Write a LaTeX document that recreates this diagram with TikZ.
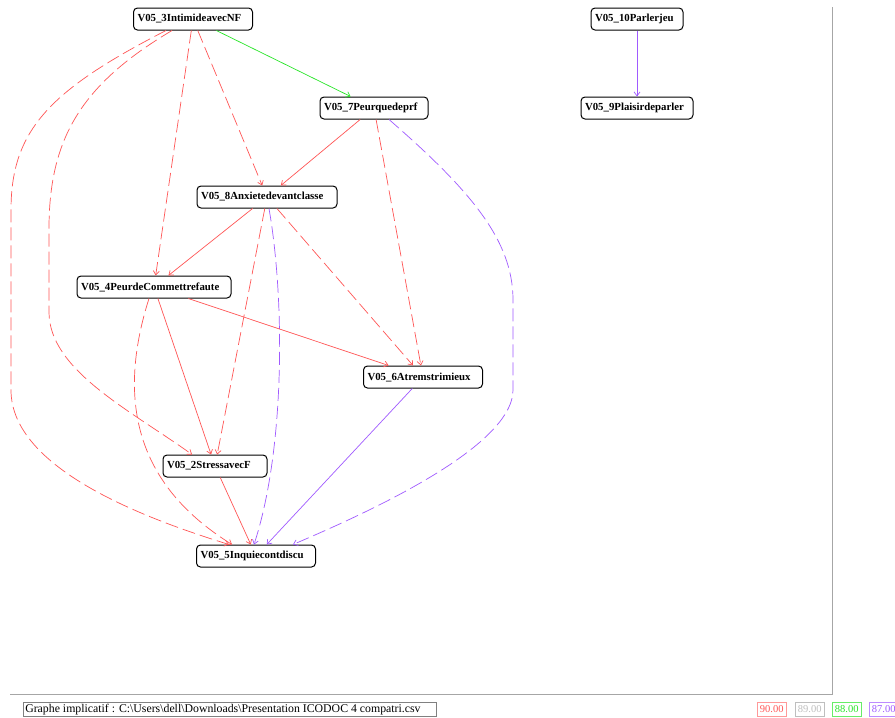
\documentclass[tikz,border=0pt]{standalone}
\usepackage{fontspec}
\setmainfont{Liberation Serif}
\usetikzlibrary{arrows.meta}
\definecolor{ered}{RGB}{255,85,85}
\definecolor{egreen}{RGB}{40,230,40}
\definecolor{epurple}{RGB}{160,90,255}
\definecolor{egray}{RGB}{190,190,190}
\begin{document}
\begin{tikzpicture}[x=1pt,y=-1pt,
  vnode/.style={draw=black, line width=1pt, rounded corners=4pt, fill=white,
    minimum height=22pt, inner xsep=4pt, inner ysep=0pt, text width=#1-8pt, align=left,
    font=\bfseries\fontsize{10.8}{11}\selectfont},
  edge/.style={line width=0.7pt, -{Straight Barb[length=4pt,width=6pt]}},
  longdash/.style={dash pattern=on 13pt off 5pt},
  legend/.style={draw, line width=0.6pt, minimum width=29pt, minimum height=14pt, inner sep=0pt,
    font=\fontsize{10.5}{11}\selectfont}]
\useasboundingbox (0,0) rectangle (895,718);
\fill[white] (0,0) rectangle (895,718);
% frame
\draw[gray!70, line width=1pt] (832,7) -- (832,694) -- (10,694);
% nodes
\node[vnode=119pt] (n3) at (193,19) {V05\_3IntimideavecNF};
\node[vnode=108pt] (n7) at (374,108) {V05\_7Peurquedeprf};
\node[vnode=92pt] (n10) at (637,19) {V05\_10Parlerjeu};
\node[vnode=112pt] (n9) at (637,108) {V05\_9Plaisirdeparler};
\node[vnode=140pt] (n8) at (267,197) {V05\_8Anxietedevantclasse};
\node[vnode=154pt] (n4) at (154,287) {V05\_4PeurdeCommettrefaute};
\node[vnode=119pt] (n6) at (423,377) {V05\_6Atremstrimieux};
\node[vnode=104pt] (n2) at (215,466) {V05\_2StressavecF};
\node[vnode=119pt] (n5) at (256,556) {V05\_5Inquiecontdiscu};
% edges
\draw[edge, egreen] (n3) -- (n7);
\draw[edge, epurple] (n10) -- (n9);
\draw[edge, ered, longdash] (n3) -- (n8);
\draw[edge, ered, longdash] (n3) -- (n4);
\draw[edge, ered, longdash] ([xshift=-21pt]n3.south) .. controls (80,85) and (49,140) .. (49,229)
  -- (49,312) .. controls (49,370) and (130,410) .. ([xshift=-23pt]n2.north);
\draw[edge, ered, longdash] ([xshift=-27pt]n3.south) .. controls (50,90) and (11,130) .. (11,210)
  -- (11,390) .. controls (11,470) and (150,520) .. ([xshift=-27pt]n5.north);
\draw[edge, ered] (n7) -- (n8);
\draw[edge, ered, longdash] (n7) -- (n6);
\draw[edge, epurple, longdash] ([xshift=15pt]n7.south) .. controls (470,190) and (513,240) .. (513,300)
  -- (513,390) .. controls (513,450) and (350,520) .. ([xshift=37pt]n5.north);
\draw[edge, ered] (n8) -- (n4);
\draw[edge, ered, longdash] (n8) -- (n2);
\draw[edge, epurple, longdash] ([xshift=2pt]n8.south) .. controls (285,300) and (285,450) .. ([xshift=-2pt]n5.north);
\draw[edge, ered, longdash] (n8) -- (n6);
\draw[edge, ered] (n4) -- (n6);
\draw[edge, ered] (n4) -- (n2);
\draw[edge, ered, longdash] ([xshift=-5pt]n4.south) .. controls (120,390) and (128,480) .. ([xshift=-24pt]n5.north);
\draw[edge, ered] (n2) -- (n5);
\draw[edge, epurple] (n6) -- (n5);
% bottom caption
\node[draw=gray, line width=0.6pt, anchor=west, minimum height=14pt, inner xsep=2pt, inner ysep=0pt,
  font=\fontsize{11.8}{12}\selectfont] (cap) at (23,709.5)
  {\makebox[409pt][l]{Graphe implicatif : C:\textbackslash Users\textbackslash dell\textbackslash Downloads\textbackslash Presentation ICODOC 4 compatri.csv}};
% legend
\node[legend, draw=ered!60, text=ered, anchor=west] (l90) at (757,709.5) {90.00};
\node[legend, draw=egray, text=egray, anchor=west] (l89) at (795,709.5) {89.00};
\node[legend, draw=egreen!70, text=egreen, anchor=west] (l88) at (832,709.5) {88.00};
\node[legend, draw=epurple!70, text=epurple, anchor=west] (l87) at (869,709.5) {87.00};
\end{tikzpicture}
\end{document}
